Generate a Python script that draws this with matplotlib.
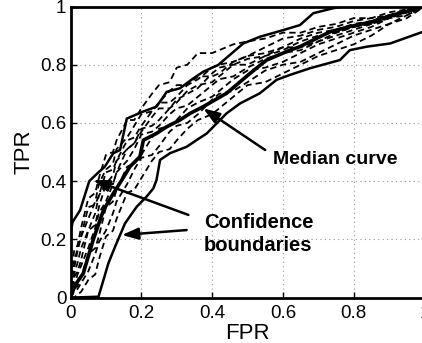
import matplotlib
matplotlib.use("Agg")
import matplotlib.pyplot as plt

plt.rcParams['font.family'] = ['Liberation Sans', 'DejaVu Sans']

# Confidence boundaries and median curve
upper_x = [0.0, 0.006, 0.027, 0.053, 0.076, 0.097, 0.121, 0.14, 0.159, 0.205, 0.243, 0.272, 0.309, 0.347, 0.375, 0.417, 0.488, 0.535, 0.601, 0.648, 0.686, 0.742, 0.77, 1.0]
upper_y = [0.22, 0.26, 0.30, 0.40, 0.427, 0.45, 0.496, 0.507, 0.615, 0.639, 0.656, 0.707, 0.719, 0.753, 0.776, 0.799, 0.873, 0.896, 0.919, 0.936, 0.977, 0.994, 1.0, 1.0]

median_x = [0.0, 0.013, 0.036, 0.064, 0.093, 0.121, 0.145, 0.168, 0.196, 0.206, 0.243, 0.272, 0.309, 0.338, 0.375, 0.441, 0.507, 0.554, 0.62, 0.648, 0.686, 0.733, 0.789, 0.855, 0.912, 1.0]
median_y = [0.0, 0.043, 0.083, 0.198, 0.30, 0.358, 0.404, 0.45, 0.484, 0.541, 0.564, 0.587, 0.61, 0.633, 0.656, 0.702, 0.77, 0.816, 0.85, 0.862, 0.885, 0.913, 0.931, 0.948, 0.971, 1.0]

lower_x = [0.0, 0.079, 0.093, 0.107, 0.126, 0.154, 0.177, 0.187, 0.215, 0.234, 0.243, 0.253, 0.281, 0.328, 0.356, 0.385, 0.441, 0.479, 0.535, 0.582, 0.62, 0.677, 0.761, 0.789, 0.837, 0.903, 1.0]
lower_y = [0.0, 0.003, 0.06, 0.118, 0.175, 0.255, 0.295, 0.312, 0.347, 0.375, 0.404, 0.473, 0.496, 0.518, 0.541, 0.564, 0.633, 0.667, 0.702, 0.748, 0.765, 0.788, 0.816, 0.85, 0.862, 0.873, 0.915]

# Individual ROC curves (dashed)
dash_x = [0.0, 0.01, 0.02, 0.03, 0.05, 0.07, 0.08, 0.10, 0.12, 0.13, 0.16, 0.18, 0.20, 0.23, 0.25, 0.28, 0.30, 0.33, 0.36, 0.40, 0.42, 0.46, 0.50, 0.55, 0.60, 0.65, 0.70, 0.75, 0.80, 0.85, 0.90, 0.95, 1.0]
dash_y1 = [0.0, 0.16, 0.18, 0.24, 0.34, 0.36, 0.41, 0.49, 0.50, 0.54, 0.61, 0.61, 0.65, 0.70, 0.73, 0.74, 0.79, 0.80, 0.84, 0.84, 0.85, 0.87, 0.88, 0.89, 0.91, 0.91, 0.93, 0.94, 0.96, 0.96, 0.98, 0.99, 1.0]
dash_y2 = [0.0, 0.10, 0.16, 0.21, 0.27, 0.33, 0.39, 0.44, 0.46, 0.51, 0.55, 0.59, 0.63, 0.64, 0.67, 0.71, 0.73, 0.73, 0.75, 0.79, 0.80, 0.81, 0.83, 0.86, 0.89, 0.90, 0.92, 0.93, 0.95, 0.96, 0.97, 0.99, 1.0]
dash_y3 = [0.0, 0.07, 0.09, 0.13, 0.23, 0.25, 0.31, 0.39, 0.39, 0.43, 0.51, 0.53, 0.57, 0.62, 0.65, 0.65, 0.67, 0.71, 0.73, 0.74, 0.76, 0.80, 0.82, 0.83, 0.85, 0.88, 0.90, 0.91, 0.93, 0.95, 0.97, 0.98, 1.0]
dash_y4 = [0.0, 0.04, 0.08, 0.11, 0.17, 0.24, 0.29, 0.33, 0.39, 0.43, 0.47, 0.51, 0.56, 0.57, 0.59, 0.63, 0.65, 0.66, 0.69, 0.73, 0.75, 0.76, 0.79, 0.82, 0.84, 0.85, 0.88, 0.91, 0.93, 0.94, 0.96, 0.98, 1.0]
dash_y5 = [0.0, 0.03, 0.04, 0.07, 0.15, 0.17, 0.21, 0.31, 0.33, 0.37, 0.45, 0.46, 0.49, 0.55, 0.58, 0.59, 0.61, 0.65, 0.67, 0.69, 0.71, 0.75, 0.78, 0.79, 0.81, 0.84, 0.87, 0.89, 0.91, 0.93, 0.96, 0.97, 1.0]
dash_y6 = [0.0, 0.02, 0.03, 0.05, 0.09, 0.15, 0.19, 0.23, 0.29, 0.33, 0.39, 0.44, 0.48, 0.49, 0.52, 0.57, 0.59, 0.60, 0.63, 0.68, 0.70, 0.71, 0.74, 0.78, 0.80, 0.81, 0.84, 0.87, 0.90, 0.92, 0.94, 0.97, 1.0]
dash_y7 = [0.0, 0.0, 0.01, 0.02, 0.06, 0.08, 0.13, 0.21, 0.23, 0.27, 0.36, 0.37, 0.41, 0.47, 0.50, 0.51, 0.54, 0.58, 0.61, 0.63, 0.65, 0.69, 0.73, 0.74, 0.77, 0.80, 0.83, 0.85, 0.87, 0.90, 0.94, 0.96, 1.0]
dash_y8 = [0.0, 0.12, 0.17, 0.21, 0.31, 0.32, 0.35, 0.43, 0.44, 0.47, 0.54, 0.55, 0.59, 0.64, 0.67, 0.67, 0.69, 0.73, 0.76, 0.76, 0.77, 0.81, 0.83, 0.84, 0.86, 0.89, 0.91, 0.92, 0.94, 0.95, 0.97, 0.98, 1.0]
dash_y9 = [0.0, 0.08, 0.12, 0.17, 0.23, 0.29, 0.35, 0.39, 0.42, 0.47, 0.51, 0.53, 0.58, 0.59, 0.61, 0.65, 0.68, 0.70, 0.72, 0.77, 0.79, 0.80, 0.80, 0.83, 0.86, 0.86, 0.88, 0.90, 0.92, 0.94, 0.96, 0.98, 1.0]
dash_ys = [dash_y1, dash_y2, dash_y3, dash_y4, dash_y5, dash_y6, dash_y7, dash_y8, dash_y9]

ticks = [0, 0.2, 0.4, 0.6, 0.8, 1.0]
tick_labels = ['0', '0.2', '0.4', '0.6', '0.8', '1']

fig = plt.figure(figsize=(4.22, 3.43), dpi=100)
ax = fig.add_axes([70.5 / 422, 45.4 / 343, 354 / 422, 291.1 / 343])

for dy in dash_ys:
    ax.plot(dash_x, dy, color='black', lw=1.3, dashes=(3.5, 2.2))

ax.plot(upper_x, upper_y, color='black', lw=1.8)
ax.plot(lower_x, lower_y, color='black', lw=1.8)
ax.plot(median_x, median_y, color='black', lw=2.6)

ax.set_xlim(0, 1)
ax.set_ylim(0, 1)
ax.set_xticks(ticks)
ax.set_xticklabels(tick_labels)
ax.set_yticks(ticks)
ax.set_yticklabels(tick_labels)
ax.tick_params(direction='in', length=4, width=1, labelsize=13.5)
ax.tick_params(axis='x', pad=5)
ax.tick_params(axis='y', pad=3)
ax.grid(True, linestyle=(0, (1, 3)), color='#999999', lw=0.8)
for s in ax.spines.values():
    s.set_linewidth(2)

ax.set_xlabel('FPR', fontsize=16, labelpad=1)
ax.set_ylabel('TPR', fontsize=16, labelpad=4)

arrow = dict(arrowstyle='-|>,head_length=0.7,head_width=0.25', color='black', lw=1.8,
             shrinkA=0, shrinkB=0, mutation_scale=14)
ax.annotate('', xy=(0.375, 0.65), xytext=(0.55, 0.507), arrowprops=arrow)
ax.text(0.572, 0.473, 'Median curve', fontsize=14, fontweight='bold', va='center', ha='left')
ax.annotate('', xy=(0.064, 0.404), xytext=(0.333, 0.284), arrowprops=arrow)
ax.annotate('', xy=(0.145, 0.215), xytext=(0.328, 0.232), arrowprops=arrow)
ax.text(0.377, 0.218, 'Confidence\nboundaries', fontsize=14.5, fontweight='bold', va='center', ha='left', linespacing=1.25)

fig.savefig('out.png', dpi=100)
